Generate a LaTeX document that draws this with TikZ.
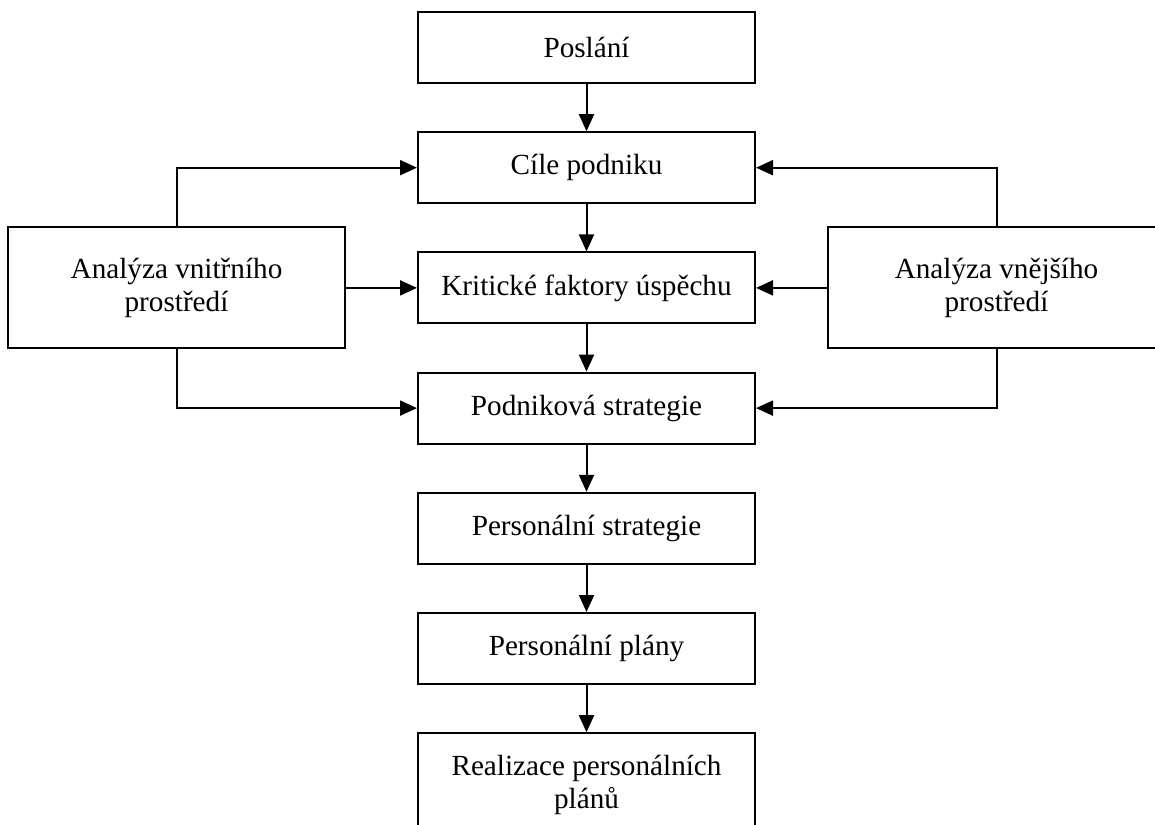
\documentclass[tikz,border=0pt]{standalone}
\usepackage{fontspec}
\setmainfont{Liberation Serif}
\usepackage{tikz}
\usetikzlibrary{arrows.meta,positioning}

\begin{document}
\begin{tikzpicture}[x=0.5pt,y=-0.5pt,node distance=23.6pt and 35.5pt,
  every node/.style={font=\fontsize{14.6}{16.5}\selectfont},
  box/.style={draw,line width=1pt,minimum width=168.5pt,minimum height=35.5pt,inner sep=0pt,align=center},
  sidebox/.style={box,minimum height=60.5pt},
  flow/.style={-{Triangle[length=8.5pt,width=7.5pt]},line width=1pt}]
\useasboundingbox (0,0) rectangle (1155,824);
\clip (0,0) rectangle (1155,824);
\node[box] (posl) at (586.5,47.5) {Poslání};
\node[box,below=of posl] (cile) {Cíle podniku};
\node[box,below=of cile] (krit) {Kritické faktory úspěchu};
\node[box,below=of krit] (podn) {Podniková strategie};
\node[box,below=of podn] (pstr) {Personální strategie};
\node[box,below=of pstr] (ppl) {Personální plány};
\node[box,below=of ppl,minimum height=52pt] (real) {Realizace personálních\\plánů};
\node[sidebox,left=of krit] (vnitr) {Analýza vnitřního\\prostředí};
\node[sidebox,right=of krit] (vnej) {Analýza vnějšího\\prostředí};
\draw[flow] (posl)--(cile);
\draw[flow] (cile)--(krit);
\draw[flow] (krit)--(podn);
\draw[flow] (podn)--(pstr);
\draw[flow] (pstr)--(ppl);
\draw[flow] (ppl)--(real);
\draw[flow] (vnitr.north) |- (cile.west);
\draw[flow] (vnitr)--(krit);
\draw[flow] (vnitr.south) |- (podn.west);
\draw[flow] (vnej.north) |- (cile.east);
\draw[flow] (vnej)--(krit);
\draw[flow] (vnej.south) |- (podn.east);
\end{tikzpicture}
\end{document}
